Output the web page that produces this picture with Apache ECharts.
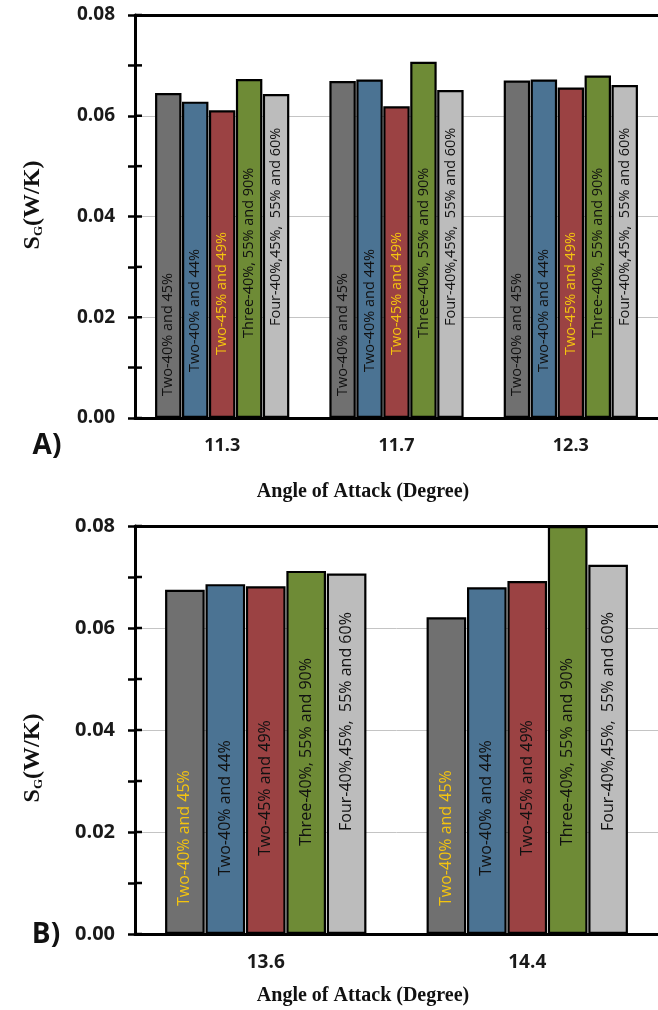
<!DOCTYPE html>
<html>
<head>
<meta charset="utf-8">
<script src="https://cdn.jsdelivr.net/npm/echarts@6/dist/echarts.min.js"></script>
<style>
  html, body { margin: 0; padding: 0; background: #ffffff; }
  #chart { width: 658px; height: 1010px; }
</style>
</head>
<body>
<div id="chart"></div>
<script>
// ---------- data ----------
const categoriesA = ['11.3', '11.7', '12.3'];
const categoriesB = ['13.6', '14.4'];
const seriesNames = ['Two-40% and 45%', 'Two-40% and 44%', 'Two-45% and 49%', 'Three-40%, 55% and 90%', 'Four-40%,45%,  55% and 60%'];
const yTicks = [0, 0.02, 0.04, 0.06, 0.08];
const yMinorTicks = [0.01, 0.03, 0.05, 0.07];

// Panel A
const a_two4045 = [0.0645, 0.0669, 0.0670];
const a_two4044 = [0.0628, 0.0672, 0.0672];
const a_two4549 = [0.0611, 0.0619, 0.0656];
const a_three   = [0.0673, 0.0707, 0.0680];
const a_four    = [0.0643, 0.0651, 0.0661];

// Panel B
const b_two4045 = [0.0675, 0.0621];
const b_two4044 = [0.0686, 0.0680];
const b_two4549 = [0.0682, 0.0692];
const b_three   = [0.0712, 0.0800];
const b_four    = [0.0707, 0.0724];

// ---------- styles ----------
const colors = ['#707070', '#4b7393', '#9b4243', '#6e8b36', '#bcbcbc'];
const yellow = '#f4c40f';
const labelColorsA = ['#111', '#111', yellow, '#111', '#111'];
const labelColorsB = [yellow, '#111', '#111', '#111', '#111'];
const labelDistA = [22, 46, 63, 80, 92];
const labelDistB = [28, 58, 78, 88, 103];
const gridA = { left: 135, top: 15, width: 525, height: 403 };
const gridB = { left: 135, top: 526, width: 526, height: 408 };

const chart = echarts.init(document.getElementById('chart'), null, { renderer: 'canvas' });

function catAxis(gridIndex, data, fs) {
  return {
    type: 'category', gridIndex, data,
    axisLine: { show: true, lineStyle: { color: '#000', width: 3 } },
    axisTick: { show: false },
    axisLabel: { color: '#1a1a1a', fontSize: fs, fontWeight: 'bold', fontFamily: 'Open Sans', margin: 19 },
    splitLine: { show: false }
  };
}
function topLine(gridIndex) {
  return {
    type: 'value', gridIndex, position: 'top', min: 0, max: 1,
    axisLine: { show: true, onZero: false, lineStyle: { color: '#000', width: 3 } },
    axisTick: { show: false }, axisLabel: { show: false }, splitLine: { show: false }
  };
}
function valAxis(gridIndex, fs) {
  return {
    type: 'value', gridIndex, position: 'left', min: yTicks[0], max: yTicks[yTicks.length - 1], interval: yTicks[1] - yTicks[0],
    axisLine: { show: true, lineStyle: { color: '#000', width: 3 } },
    axisTick: { show: true, length: 7, lineStyle: { color: '#000', width: 2.5 } },
    minorTick: { show: true, splitNumber: 2, length: 7, lineStyle: { color: '#000', width: 2.5 } },
    axisLabel: { color: '#1a1a1a', fontSize: fs, fontWeight: 'bold', fontFamily: 'Open Sans', margin: 20,
                 formatter: v => v.toFixed(2) },
    splitLine: { show: true, lineStyle: { color: '#c4c4c4', width: 1 } }
  };
}

// inward half of the y-axis tick marks, positioned through the y scale
function innerTicks(xi, yi) {
  const vals = yTicks.concat(yMinorTicks);
  return {
    type: 'custom', xAxisIndex: xi, yAxisIndex: yi, silent: true, z: 10,
    data: vals.map(v => [0, v]),
    encode: { x: 0, y: 1 },
    renderItem: function (params, api) {
      const cs = params.coordSys;
      const y = api.coord([0, api.value(1)])[1];
      return { type: 'line', shape: { x1: cs.x, y1: y, x2: cs.x + 7, y2: y },
               style: { stroke: '#000', lineWidth: 2.5 } };
    }
  };
}

function makeSeries(values, xi, yi, labelColors, dists, fs) {
  return values.map((vals, i) => ({
    type: 'bar', name: seriesNames[i], xAxisIndex: xi, yAxisIndex: yi, data: vals,
    barGap: '2%', barCategoryGap: '23%',
    itemStyle: { color: colors[i], borderColor: '#000', borderWidth: 2.2 },
    label: {
      show: true, position: 'insideBottom', distance: dists[i], rotate: 90,
      align: 'left', verticalAlign: 'middle',
      formatter: seriesNames[i], color: labelColors[i], fontSize: fs, fontFamily: 'Open Sans', fontWeight: 500
    },
    z: 3
  }));
}

const option = {
  backgroundColor: '#ffffff',
  animation: false,
  grid: [gridA, gridB],
  xAxis: [catAxis(0, categoriesA, 18), topLine(0), catAxis(1, categoriesB, 19), topLine(1)],
  yAxis: [valAxis(0, 19), valAxis(1, 20)],
  series: [].concat(
    makeSeries([a_two4045, a_two4044, a_two4549, a_three, a_four], 0, 0, labelColorsA, labelDistA, 14.5),
    makeSeries([b_two4045, b_two4044, b_two4549, b_three, b_four], 2, 1, labelColorsB, labelDistB, 16),
    [innerTicks(0, 0), innerTicks(2, 1)]
  ),
  graphic: [
    { type: 'text', x: 47, y: 446, style: { text: 'A)', font: 'bold 28px "Open Sans"', fill: '#111', align: 'center', verticalAlign: 'middle' } },
    { type: 'text', x: 46, y: 935, style: { text: 'B)', font: 'bold 28px "Open Sans"', fill: '#111', align: 'center', verticalAlign: 'middle' } },
    { type: 'text', x: 363, y: 492, style: { text: 'Angle of Attack (Degree)', font: 'bold 20px "Liberation Serif"', fill: '#111', align: 'center', verticalAlign: 'middle' } },
    { type: 'text', x: 363, y: 996, style: { text: 'Angle of Attack (Degree)', font: 'bold 20px "Liberation Serif"', fill: '#111', align: 'center', verticalAlign: 'middle' } },
    { type: 'text', x: 33, y: 205, rotation: Math.PI / 2,
      style: { text: '{s|S}{g|G}{s|(W/K)}', align: 'center', verticalAlign: 'middle', fill: '#111',
        rich: { s: { fontSize: 24, fontFamily: 'Liberation Serif', fontWeight: 'bold', fill: '#111', color: '#111' },
                g: { fontSize: 13, fontFamily: 'Liberation Serif', fontWeight: 'bold', fill: '#111', color: '#111', verticalAlign: 'bottom', padding: [8, 0, 0, 0] } } } },
    { type: 'text', x: 33, y: 758, rotation: Math.PI / 2,
      style: { text: '{s|S}{g|G}{s|(W/K)}', align: 'center', verticalAlign: 'middle', fill: '#111',
        rich: { s: { fontSize: 24, fontFamily: 'Liberation Serif', fontWeight: 'bold', fill: '#111', color: '#111' },
                g: { fontSize: 13, fontFamily: 'Liberation Serif', fontWeight: 'bold', fill: '#111', color: '#111', verticalAlign: 'bottom', padding: [8, 0, 0, 0] } } } }
  ]
};
chart.setOption(option);
</script>
</body>
</html>
